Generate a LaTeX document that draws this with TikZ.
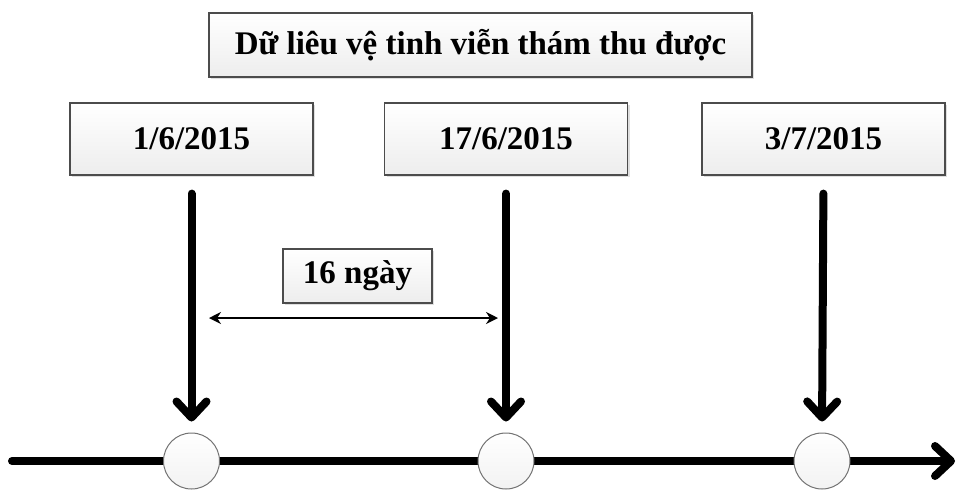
\documentclass[tikz,border=0pt]{standalone}
\usepackage{fontspec}
\setmainfont{Liberation Serif}
\usetikzlibrary{arrows.meta,shadows}
\begin{document}
\begin{tikzpicture}[x=1pt,y=-1pt,
  box/.style={draw=black!70, line width=1.2pt, top color=white, bottom color=black!7,
    drop shadow={opacity=0.25, shadow xshift=2pt, shadow yshift=-2pt},
    font=\bfseries\fontsize{33}{36}\selectfont, inner sep=0pt},
  dot/.style={circle, draw=black!55, line width=1pt, top color=white, bottom color=black!5,
    minimum size=56pt, inner sep=0pt},
  bigarrow/.style={line width=8pt, line cap=round,
    -{Straight Barb[length=16pt,width=30pt,line cap=round,line join=round]}},
  span/.style={line width=1.8pt, {Stealth[length=12pt,width=12pt]}-{Stealth[length=12pt,width=12pt]}}
]
\useasboundingbox (0,0) rectangle (961,491);

% title and date boxes
\node[box, minimum width=543pt, minimum height=64pt] (title) at (480.5,45) {Dữ liêu vệ tinh viễn thám thu được};
\node[box, minimum width=243pt, minimum height=72pt] (d1) at (191.5,139) {1/6/2015};
\node[box, minimum width=243pt, minimum height=72pt] (d2) at (506,139) {17/6/2015};
\node[box, minimum width=243pt, minimum height=72pt] (d3) at (823.5,139) {3/7/2015};

% time axis
\coordinate (axisL) at (12,461);
\coordinate (axisR) at (955,461);
\draw[bigarrow] (axisL) -- (axisR);

% sample points on the axis
\node[dot] (p1) at (191.5,461) {};
\node[dot] (p2) at (506,461) {};
\node[dot] (p3) at (822,461) {};

% acquisition arrows
\foreach \i in {1,2,3}
  \draw[bigarrow, shorten <=18pt, shorten >=11pt] (d\i.south) -- (p\i.north);

% revisit interval
\node[box, minimum width=149pt, minimum height=54pt] (gap) at (357.5,276) {16 ngày};
\coordinate (spanL) at (209,318);
\coordinate (spanR) at (498,318);
\draw[span] (spanL) -- (spanR);
\end{tikzpicture}
\end{document}
